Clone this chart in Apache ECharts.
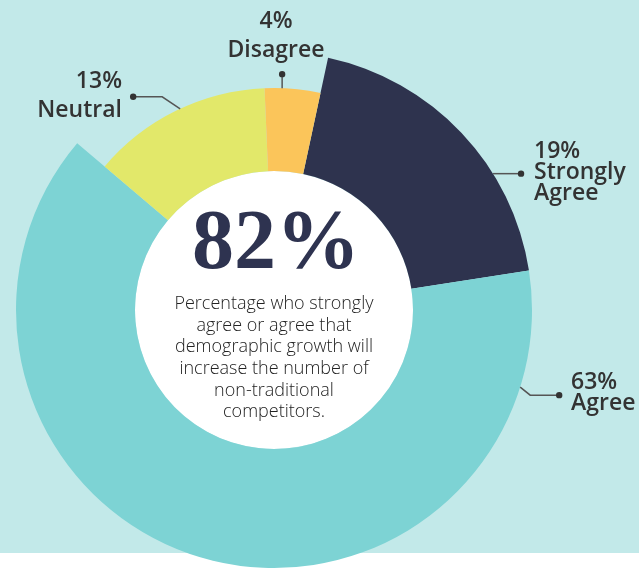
<!DOCTYPE html>
<html><head><meta charset="utf-8">
<script src="https://cdn.jsdelivr.net/npm/echarts@6/dist/echarts.min.js"></script>
<style>html,body{margin:0;padding:0;background:#fff}#c{width:639px;height:573px}</style>
</head><body><div id="c"></div>
<script>
// ---- data ----
const categories = ['Strongly Agree', 'Agree', 'Neutral', 'Disagree'];
const values = [19, 63, 13, 4];
const headline = '82%';
const caption = ['Percentage who strongly', 'agree or agree that', 'demographic growth will', 'increase the number of', 'non-traditional', 'competitors.'];

// ---- styles / layout ----
const colors = ['#2e334e', '#7dd3d4', '#e2e86a', '#fbc55a'];
const longSlice = [true, true, false, false];
const CX = 274, CY = 310, R_IN = 139, R_BIG = 258, R_SMALL = 222;
const START = 77.9;
const labelPos = [
  { x: 534, y: 140.5, align: 'left', lh: 21 },
  { x: 571, y: 371.5, align: 'left', lh: 21 },
  { x: 122, y: 66.5, align: 'right', lh: 29 },
  { x: 276, y: 6.5, align: 'center', lh: 29 }
];
const leaders = [
  { angle: 58.1, moves: [[28, 0]] },
  { angle: 107.4, moves: [[10, 8], [29, 0]] },
  { angle: 335, moves: [[-18, -12], [-29, 0]] },
  { angle: 2.1, moves: [[0, -14]] }
];

function polar(r, deg) {
  const a = deg * Math.PI / 180;
  return [CX + r * Math.sin(a), CY - r * Math.cos(a)];
}

function makeData(big) {
  return categories.map((n, i) => {
    const vis = longSlice[i] === big;
    return {
      name: n, value: values[i],
      itemStyle: { color: vis ? colors[i] : 'rgba(0,0,0,0)' },
      label: { show: vis, lineHeight: labelPos[i].lh }
    };
  });
}

function makeSeries(big) {
  return {
    type: 'pie',
    center: [CX, CY],
    radius: [R_IN, big ? R_BIG : R_SMALL],
    startAngle: START,
    clockwise: true,
    silent: true,
    avoidLabelOverlap: false,
    emphasis: { disabled: true },
    label: {
      position: 'outside',
      formatter: p => p.value + '%\n' + p.name.replace(' ', '\n'),
      fontFamily: '"Open Sans"', fontWeight: 600, fontSize: 23, color: '#333'
    },
    labelLine: { show: false },
    labelLayout: p => {
      const L = labelPos[p.dataIndex];
      return { x: L.x, y: L.y, align: L.align, verticalAlign: 'top' };
    },
    data: makeData(big)
  };
}

const graphics = [
  { type: 'rect', z: 0, silent: true, shape: { x: 0, y: 0, width: 639, height: 553 }, style: { fill: '#c2e9e9' } },
  { type: 'circle', z: 1, silent: true, shape: { cx: CX, cy: CY, r: R_IN }, style: { fill: '#ffffff' } },
  { type: 'text', z: 10, silent: true, style: { text: headline, x: 276, y: 246.6, font: 'bold 84px "Liberation Serif"', fill: '#2e3350', align: 'center', verticalAlign: 'middle', textAlign: 'center', textVerticalAlign: 'middle' } },
  { type: 'text', z: 10, silent: true, style: { text: caption.join('\n'), x: 274, y: 293.2, font: '300 18px "Open Sans"', lineHeight: 21.6, fill: '#222', align: 'center', verticalAlign: 'top', textAlign: 'center', textVerticalAlign: 'top' } }
];

leaders.forEach((l, i) => {
  const pts = [polar(longSlice[i] ? R_BIG : R_SMALL, l.angle)];
  l.moves.forEach(m => {
    const p = pts[pts.length - 1];
    pts.push([p[0] + m[0], p[1] + m[1]]);
  });
  graphics.push({ type: 'polyline', z: 10, silent: true, shape: { points: pts }, style: { stroke: '#555', lineWidth: 1.5, fill: null } });
  const e = pts[pts.length - 1];
  graphics.push({ type: 'circle', z: 11, silent: true, shape: { cx: e[0], cy: e[1], r: 3.2 }, style: { fill: '#333' } });
});

const chart = echarts.init(document.getElementById('c'));
chart.setOption({
  backgroundColor: '#ffffff',
  animation: false,
  tooltip: { show: false },
  graphic: graphics,
  series: [makeSeries(true), makeSeries(false)]
});
</script>
</body></html>
